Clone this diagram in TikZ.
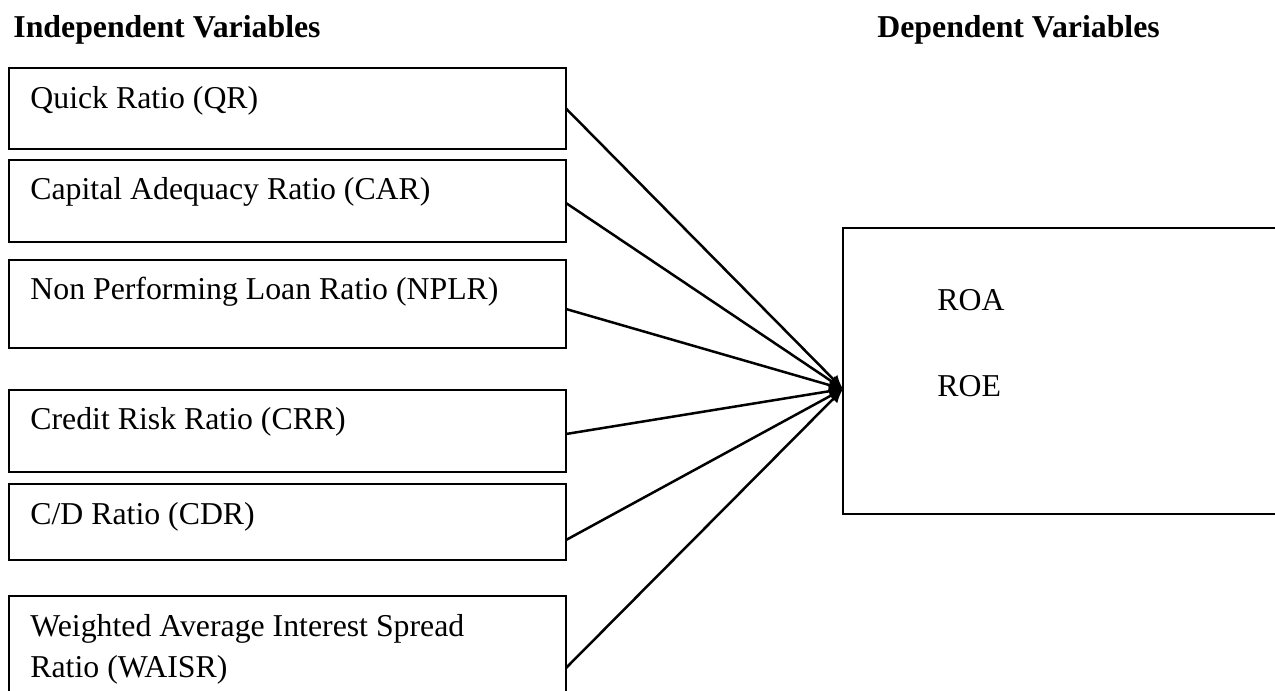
\documentclass[tikz,border=0pt]{standalone}
\usepackage{fontspec}
\setmainfont{Liberation Serif}
\usetikzlibrary{arrows.meta,calc}
\begin{document}
\begin{tikzpicture}[x=0.5pt,y=-0.5pt,
  ibox/.style={draw,line width=0.9pt,anchor=north west,inner sep=0pt,outer sep=0pt,minimum width=278.5pt},
  txt/.style={anchor=base west,inner sep=0pt,font=\fontsize{15.9}{20.5}\selectfont},
  head/.style={txt,font=\fontsize{15.9}{20.5}\selectfont\bfseries},
  conn/.style={line width=1.25pt,-{Latex[length=7pt,width=6pt]}}]
\useasboundingbox (0,0) rectangle (1275,691);
% headers
\node[head] (hi) at (13,37) {Independent Variables};
\node[head] (hd) at (877,37) {Dependent Variables};
% independent variable boxes
\node[ibox,minimum height=40.5pt] (b1) at (9,68) {};
\node[ibox,minimum height=41pt] (b2) at (9,160) {};
\node[ibox,minimum height=44pt] (b3) at (9,260) {};
\node[ibox,minimum height=41pt] (b4) at (9,390) {};
\node[ibox,minimum height=38pt] (b5) at (9,484) {};
\node[ibox,minimum height=60pt] (b6) at (9,596) {};
\node[txt] (t1) at (30,108) {Quick Ratio (QR)};
\node[txt] (t2) at (30,199) {Capital Adequacy Ratio (CAR)};
\node[txt] (t3) at (30,299) {Non Performing Loan Ratio (NPLR)};
\node[txt] (t4) at (30,429) {Credit Risk Ratio (CRR)};
\node[txt] (t5) at (30,524) {C/D Ratio (CDR)};
\node[txt] (t6) at (30,636) {Weighted Average Interest Spread};
\node[txt] (t6b) at (30,677) {Ratio (WAISR)};
% dependent box (right side runs off the page)
\node[draw,line width=0.9pt,anchor=north west,inner sep=0pt,outer sep=0pt,
      minimum width=225pt,minimum height=143pt] (R) at (843,228) {};
\node[txt] (roa) at (937,310) {ROA};
\node[txt] (roe) at (937,396) {ROE};
\coordinate (tip) at ([yshift=-9pt]R.west);
% connectors
\draw[conn] (b1.east) -- (tip);
\draw[conn] ([yshift=-1pt]b2.east) -- (tip);
\draw[conn] ([yshift=-2.5pt]b3.east) -- (tip);
\draw[conn] ([yshift=-1.5pt]b4.east) -- (tip);
\draw[conn] ([yshift=-9pt]b5.east) -- (tip);
\draw[conn] ([yshift=-6pt]b6.east) -- (tip);
\end{tikzpicture}
\end{document}
